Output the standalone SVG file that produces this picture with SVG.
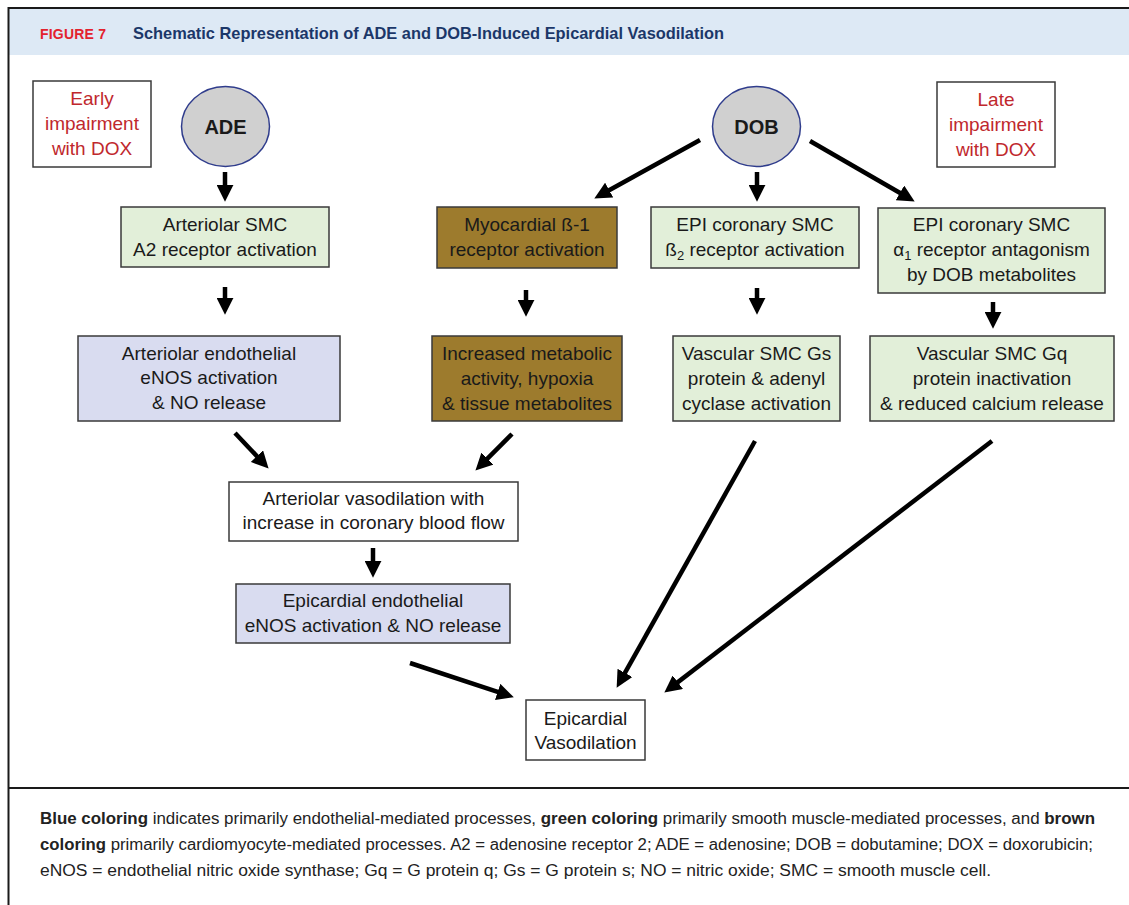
<svg xmlns="http://www.w3.org/2000/svg" width="1129" height="905" viewBox="0 0 1129 905">
<style>
  .node text { font-family: "Liberation Sans", Arial, sans-serif; font-size: 19px; fill: #1a1a1a; text-anchor: middle; }
  .box { stroke: #3a3a3a; stroke-width: 1.5; }
  .green { fill: #e2efd9; }
  .brown { fill: #9d7b2d; }
  .blue { fill: #d9dcf0; }
  .white { fill: #ffffff; }
  .red text, text.red { fill: #c0282d; }
  .oval { fill: #d0d0d0; stroke: #2f3c8c; stroke-width: 1.5; }
  .node text.bold { font-weight: bold; font-size: 20px; }
  .conn line { stroke: #000; stroke-width: 4.5; marker-end: url(#ah); }
  .cap { font-family: "Liberation Sans", Arial, sans-serif; font-size: 16px; fill: #222; }
  .cap .b { font-weight: bold; }
</style>
<defs>
  <marker id="ah" viewBox="0 0 16 16" markerWidth="17" markerHeight="17" markerUnits="userSpaceOnUse" refX="3" refY="8" orient="auto">
    <path d="M0,0 L16,8 L0,16 z" fill="#000"/>
  </marker>
</defs>
<rect x="0" y="0" width="1129" height="905" fill="#ffffff"/>
<!-- frame -->
<rect x="9" y="9" width="1120" height="46" fill="#dde9f5"/>
<line x1="8" y1="8" x2="1129" y2="8" stroke="#1a1a1a" stroke-width="2"/>
<line x1="8.5" y1="7" x2="8.5" y2="905" stroke="#1a1a1a" stroke-width="2"/>
<line x1="8" y1="788" x2="1129" y2="788" stroke="#1a1a1a" stroke-width="2"/>
<text x="40" y="38.5" font-family="Liberation Sans, Arial, sans-serif" font-size="14" font-weight="bold" fill="#e3222e" textLength="66" lengthAdjust="spacing">FIGURE 7</text>
<text x="133" y="38.5" font-family="Liberation Sans, Arial, sans-serif" font-size="17" font-weight="bold" fill="#1b3769" textLength="591" lengthAdjust="spacingAndGlyphs">Schematic Representation of ADE and DOB-Induced Epicardial Vasodilation</text>

<g id="early" class="node red">
  <rect class="box white" x="33" y="81" width="118" height="86"/>
  <text x="92" y="105">Early</text>
  <text x="92" y="130">impairment</text>
  <text x="92" y="155">with DOX</text>
</g>
<g id="late" class="node red">
  <rect class="box white" x="937" y="82" width="118" height="85"/>
  <text x="996" y="106">Late</text>
  <text x="996" y="131">impairment</text>
  <text x="996" y="156">with DOX</text>
</g>
<g id="ade" class="node">
  <ellipse class="oval" cx="225.5" cy="126.5" rx="44" ry="40"/>
  <text class="bold" x="225.5" y="134">ADE</text>
</g>
<g id="dob" class="node">
  <ellipse class="oval" cx="756.5" cy="126.5" rx="44" ry="40"/>
  <text class="bold" x="756.5" y="134">DOB</text>
</g>
<g id="a2" class="node">
  <rect class="box green" x="121" y="207" width="208" height="60"/>
  <text x="225" y="231">Arteriolar SMC</text>
  <text x="225" y="256">A2 receptor activation</text>
</g>
<g id="myo" class="node">
  <rect class="box brown" x="437" y="207" width="180" height="61"/>
  <text x="527" y="231">Myocardial ß-1</text>
  <text x="527" y="256">receptor activation</text>
</g>
<g id="b2" class="node">
  <rect class="box green" x="651" y="207" width="208" height="61"/>
  <text x="755" y="231">EPI coronary SMC</text>
  <text x="755" y="256">ß<tspan font-size="13" dy="4">2</tspan><tspan dy="-4"> receptor activation</tspan></text>
</g>
<g id="a1" class="node">
  <rect class="box green" x="878" y="208" width="227" height="85"/>
  <text x="991.5" y="231">EPI coronary SMC</text>
  <text x="991.5" y="256">α<tspan font-size="13" dy="4">1</tspan><tspan dy="-4"> receptor antagonism</tspan></text>
  <text x="991.5" y="281">by DOB metabolites</text>
</g>
<g id="endo" class="node">
  <rect class="box blue" x="78" y="336" width="262" height="85"/>
  <text x="209" y="360">Arteriolar endothelial</text>
  <text x="209" y="384">eNOS activation</text>
  <text x="209" y="409">&amp; NO release</text>
</g>
<g id="meta" class="node">
  <rect class="box brown" x="432" y="336" width="190" height="85"/>
  <text x="527" y="360">Increased metabolic</text>
  <text x="527" y="385">activity, hypoxia</text>
  <text x="527" y="410">&amp; tissue metabolites</text>
</g>
<g id="gs" class="node">
  <rect class="box green" x="673" y="336" width="167" height="85"/>
  <text x="756.5" y="360">Vascular SMC Gs</text>
  <text x="756.5" y="385">protein &amp; adenyl</text>
  <text x="756.5" y="410">cyclase activation</text>
</g>
<g id="gq" class="node">
  <rect class="box green" x="870" y="336" width="244" height="85"/>
  <text x="992" y="360">Vascular SMC Gq</text>
  <text x="992" y="385">protein inactivation</text>
  <text x="992" y="410">&amp; reduced calcium release</text>
</g>
<g id="artvaso" class="node">
  <rect class="box white" x="229" y="482" width="289" height="59"/>
  <text x="373.5" y="505">Arteriolar vasodilation with</text>
  <text x="373.5" y="529">increase in coronary blood flow</text>
</g>
<g id="epiendo" class="node">
  <rect class="box blue" x="236" y="584" width="274" height="59"/>
  <text x="373" y="607">Epicardial endothelial</text>
  <text x="373" y="632">eNOS activation &amp; NO release</text>
</g>
<g id="epivaso" class="node">
  <rect class="box white" x="526" y="700" width="119" height="60"/>
  <text x="585.5" y="725">Epicardial</text>
  <text x="585.5" y="749">Vasodilation</text>
</g>

<g id="connectors" class="conn">
  <line x1="225" y1="172" x2="225" y2="188"/>
  <line x1="757" y1="172" x2="757" y2="188"/>
  <line x1="700" y1="140" x2="606.4" y2="191.7"/>
  <line x1="810" y1="141" x2="902.7" y2="194.5"/>
  <line x1="225" y1="287" x2="225" y2="301"/>
  <line x1="526" y1="290" x2="526" y2="303"/>
  <line x1="757" y1="288" x2="757" y2="301"/>
  <line x1="993" y1="302" x2="993" y2="315"/>
  <line x1="235" y1="433" x2="259.1" y2="458.5"/>
  <line x1="512" y1="434" x2="485.2" y2="460.8"/>
  <line x1="373" y1="548" x2="373" y2="564"/>
  <line x1="410" y1="663" x2="500.7" y2="692.9"/>
  <line x1="755" y1="441" x2="623.4" y2="675.7"/>
  <line x1="992" y1="441" x2="675.3" y2="684.1"/>
</g>

<g id="caption" class="cap">
  <text x="40" y="824" textLength="1055" lengthAdjust="spacingAndGlyphs"><tspan class="b">Blue coloring</tspan> indicates primarily endothelial-mediated processes, <tspan class="b">green coloring</tspan> primarily smooth muscle-mediated processes, and <tspan class="b">brown</tspan></text>
  <text x="40" y="850" textLength="1053" lengthAdjust="spacingAndGlyphs"><tspan class="b">coloring</tspan> primarily cardiomyocyte-mediated processes. A2 = adenosine receptor 2; ADE = adenosine; DOB = dobutamine; DOX = doxorubicin;</text>
  <text x="40" y="876" textLength="951" lengthAdjust="spacingAndGlyphs">eNOS = endothelial nitric oxide synthase; Gq = G protein q; Gs = G protein s; NO = nitric oxide; SMC = smooth muscle cell.</text>
</g>
</svg>
